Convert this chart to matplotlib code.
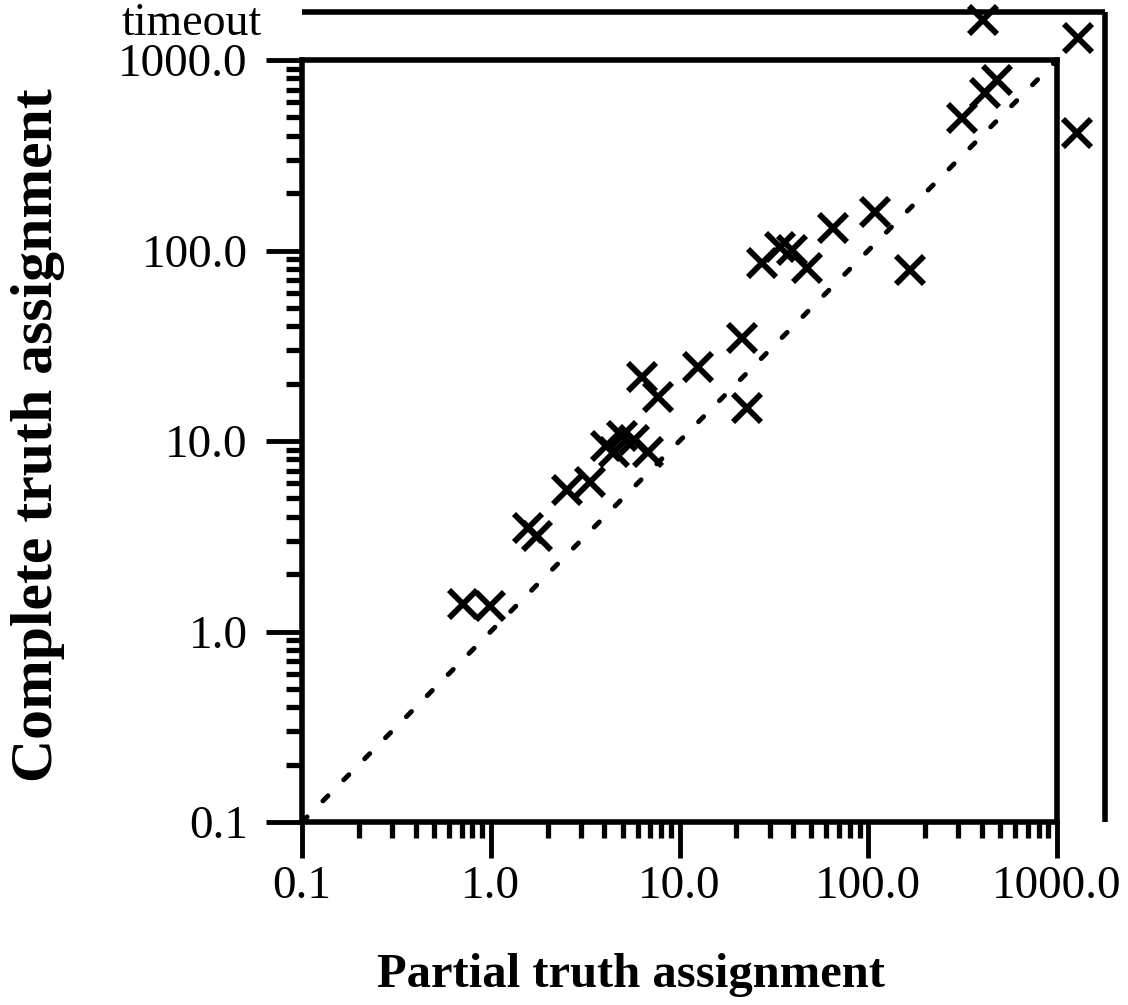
import matplotlib
matplotlib.use("Agg")
import matplotlib.pyplot as plt
from matplotlib.ticker import FixedLocator, FixedFormatter, LogLocator, NullFormatter

# ---- data (seconds) ----
partial = [0.71, 0.99, 1.58, 1.76, 2.54, 3.36,
           4.08, 4.96, 5.74, 6.81, 4.5,
           6.33, 7.69, 12.5, 21.4, 22.8,
           27.4, 34.1, 39.4, 47.4, 65.0, 109.0, 166.0,
           314.0, 416.0, 481.0, 1277.0, 1291.0, 405.0]
complete = [1.39, 1.36, 3.5, 3.17, 5.53, 6.09,
            9.42, 10.6, 10.1, 8.75, 8.75,
            21.7, 17.0, 24.5, 34.7, 14.9,
            86.0, 104.0, 101.0, 81.0, 131.0, 159.0, 79.0,
            496.0, 671.0, 785.0, 414.0, 1304.0, 1622.0]
tick_values = [0.1, 1.0, 10.0, 100.0, 1000.0]
tick_labels = ["0.1", "1.0", "10.0", "100.0", "1000.0"]
diag = [0.1, 1000.0]
timeout_value = 1790.0

W, H = 1128, 1005
fig = plt.figure(figsize=(W / 100, H / 100), dpi=100)
ax = fig.add_axes([302 / W, 1 - 822 / H, (1057 - 302) / W, (822 - 60) / H])

serif = ["Liberation Serif", "DejaVu Serif"]

ax.set_xscale("log")
ax.set_yscale("log")
ax.set_xlim(0.1, 1000)
ax.set_ylim(0.1, 1000)

# diagonal reference line
ax.plot(diag, diag, color="black", lw=3.5, linestyle=(0, (1.5, 4.6)),
        dash_capstyle="round", zorder=2)

# scatter points
ax.plot(partial, complete, linestyle="none", marker="x", markersize=20,
        markeredgewidth=4.2, color="black", clip_on=False, zorder=3)

# timeout frame lines
ax.plot([0.1, timeout_value], [timeout_value, timeout_value], color="black",
        lw=4, clip_on=False, solid_capstyle="butt")
ax.plot([timeout_value, timeout_value], [0.1, timeout_value], color="black",
        lw=4, clip_on=False, solid_capstyle="butt")

for s in ax.spines.values():
    s.set_linewidth(4)

for axis in (ax.xaxis, ax.yaxis):
    axis.set_major_locator(FixedLocator(tick_values))
    axis.set_major_formatter(FixedFormatter(tick_labels))
    axis.set_minor_locator(LogLocator(base=10, subs=range(2, 10), numticks=20))
    axis.set_minor_formatter(NullFormatter())

ax.tick_params(which="major", direction="out", length=26, width=3.5,
               labelsize=34, top=False, right=False)
ax.tick_params(which="minor", direction="out", length=11.5, width=3.8,
               top=False, right=False)
ax.tick_params(axis="x", which="major", pad=5)
ax.tick_params(axis="y", which="major", pad=13)
for lab in ax.get_xticklabels() + ax.get_yticklabels():
    lab.set_family(serif)

# timeout label
fig.text(262 / W, 1 - 35 / H, "timeout", family=serif, fontsize=33,
         ha="right", va="baseline")

# axis titles
fig.text(631 / W, 1 - 975 / H, "Partial truth assignment", family=serif,
         fontsize=35, fontweight="bold", ha="center", va="center")
fig.text(38 / W, 1 - 435 / H, "Complete truth assignment", family=serif,
         fontsize=43, fontweight="bold", ha="center", va="center", rotation=90)

fig.savefig("out.png", dpi=100)
